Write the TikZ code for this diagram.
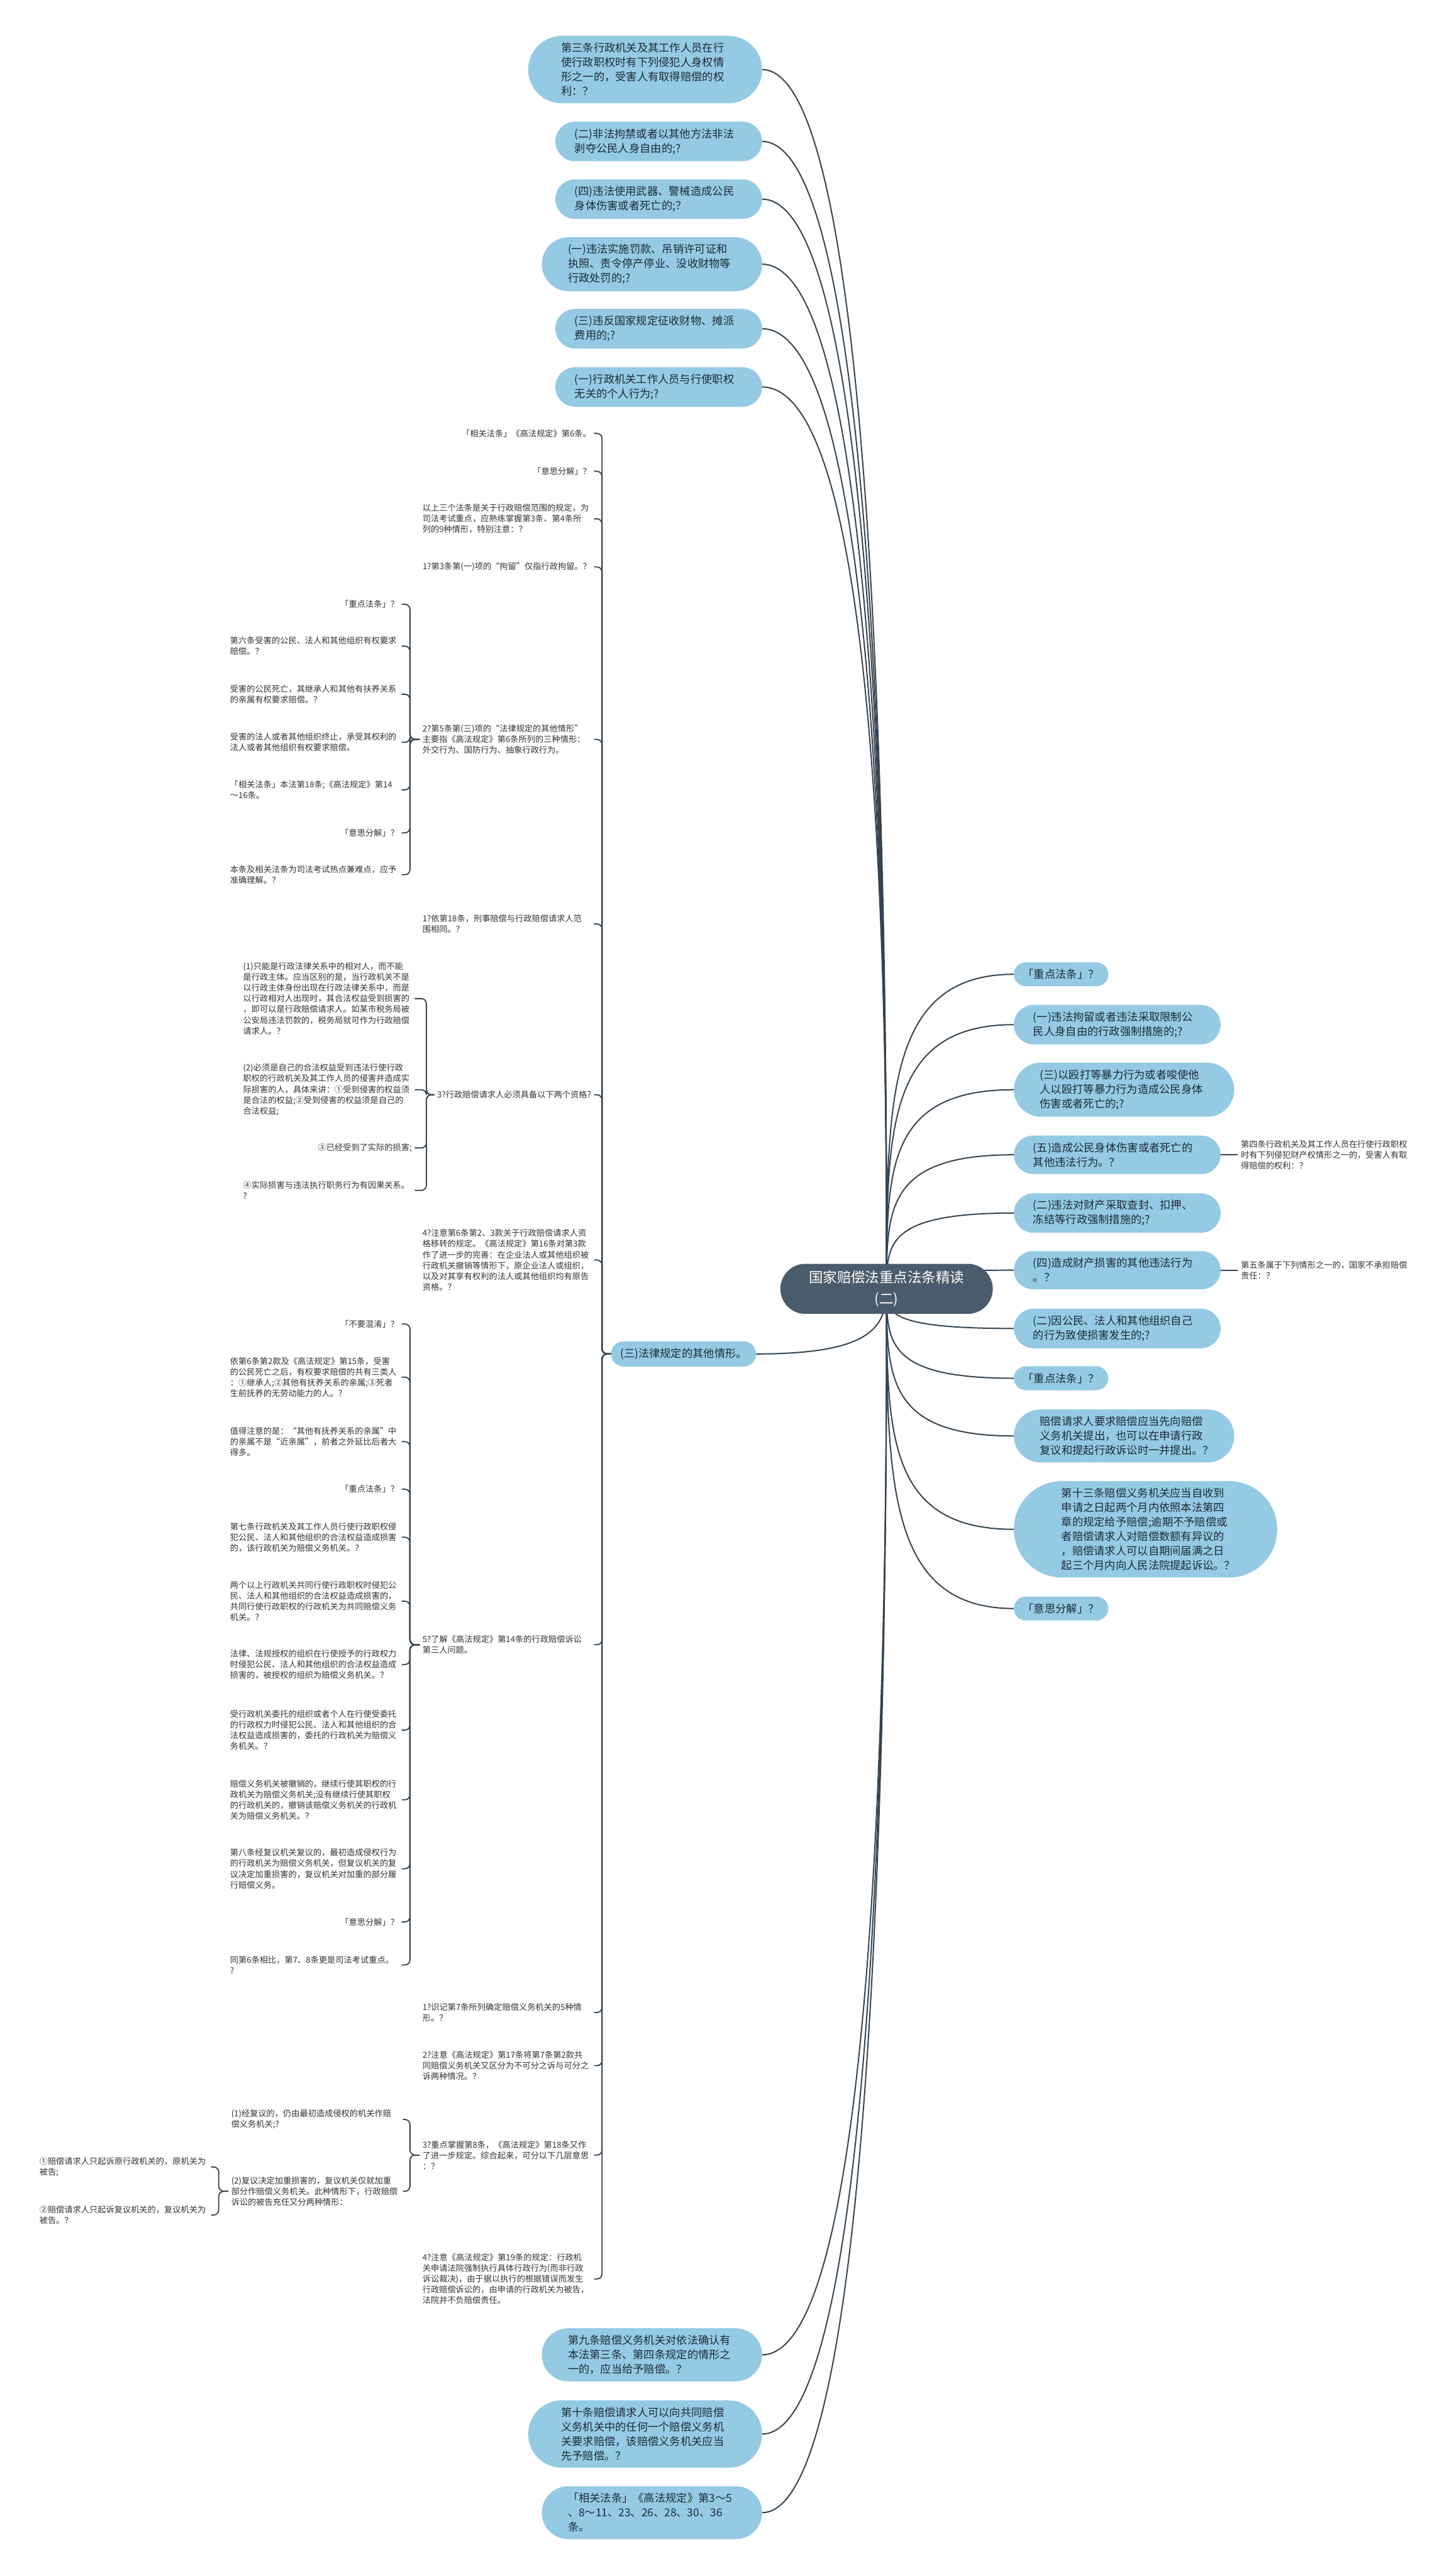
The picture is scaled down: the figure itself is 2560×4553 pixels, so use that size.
\documentclass[tikz,border=0pt]{standalone}
\usepackage{fontspec}
\setmainfont{Noto Sans CJK SC}
\usetikzlibrary{calc}
\definecolor{bubfill}{HTML}{94CAE4}
\definecolor{rootfill}{HTML}{4A5B6B}
\definecolor{lineC}{HTML}{34434F}
\definecolor{smalltext}{HTML}{333333}
\definecolor{bubtext}{HTML}{1E2B36}
\pgfdeclarelayer{bg}
\pgfdeclarelayer{lines}
\pgfdeclarelayer{pills}
\pgfsetlayers{bg,lines,pills,main}
\begin{document}
\begin{tikzpicture}[x=1pt,y=-1pt,
  bubT/.style={text=bubtext, font=\fontsize{19.2pt}{25.6pt}\selectfont, align=left, inner ysep=12pt},
  bub1/.style={bubT, inner xsep=16pt},
  bub2/.style={bubT, text width=297pt, inner xsep=34pt},
  bub3/.style={bubT, text width=297pt, inner xsep=46pt},
  bub4/.style={bubT, text width=297pt, inner xsep=58pt},
  bub6/.style={bubT, text width=297pt, inner xsep=84pt},
  rootT/.style={text=white, font=\fontsize{25pt}{38pt}\selectfont, align=center, inner xsep=50pt, inner ysep=12pt},
  sm/.style={text=smalltext, font=\fontsize{14.7pt}{19pt}\selectfont, align=left, inner xsep=5pt, inner ysep=2pt},
  sw/.style={sm, text width=298pt},
  conn/.style={draw=lineC, line width=2.2pt},
  brk/.style={draw=lineC, line width=2.0pt, rounded corners=9pt}]
\begin{pgfonlayer}{bg}
\fill[white] (0,0) rectangle (2560,4553);
\end{pgfonlayer}
\useasboundingbox (0,0) rectangle (2560,4553);

% root
\node[rootT] (root) at (1567,2278) {国家赔偿法重点法条精读\\(二)};

% left top bubbles
\node[bub4,anchor=east] (b1) at (1347,123) {第三条行政机关及其工作人员在行\\使行政职权时有下列侵犯人身权情\\形之一的，受害人有取得赔偿的权\\利：？};
\node[bub2,anchor=east] (b2) at (1347,250) {(二)非法拘禁或者以其他方法非法\\剥夺公民人身自由的;?};
\node[bub2,anchor=east] (b3) at (1347,352) {(四)违法使用武器、警械造成公民\\身体伤害或者死亡的;？};
\node[bub3,anchor=east] (b4) at (1347,467) {(一)违法实施罚款、吊销许可证和\\执照、责令停产停业、没收财物等\\行政处罚的;?};
\node[bub2,anchor=east] (b5) at (1347,581) {(三)违反国家规定征收财物、摊派\\费用的;?};
\node[bub2,anchor=east] (b6) at (1347,684) {(一)行政机关工作人员与行使职权\\无关的个人行为;?};

% left middle bubble
\node[bub1,anchor=west] (san) at (1080,2393) {(三)法律规定的其他情形。};

% bottom bubbles
\node[bub3,anchor=east] (bb1) at (1347,4162) {第九条赔偿义务机关对依法确认有\\本法第三条、第四条规定的情形之\\一的，应当给予赔偿。？};
\node[bub4,anchor=east] (bb2) at (1347,4302) {第十条赔偿请求人可以向共同赔偿\\义务机关中的任何一个赔偿义务机\\关要求赔偿，该赔偿义务机关应当\\先予赔偿。？};
\node[bub3,anchor=east] (bb3) at (1347,4441) {「相关法条」《高法规定》第3～5\\、8～11、23、26、28、30、36\\条。};

% right bubbles
\node[bub1,anchor=west] (r1) at (1792,1722) {「重点法条」？};
\node[bub2,anchor=west] (r2) at (1792,1811) {(一)违法拘留或者违法采取限制公\\民人身自由的行政强制措施的;?};
\node[bub3,anchor=west] (r3) at (1792,1926) {(三)以殴打等暴力行为或者唆使他\\人以殴打等暴力行为造成公民身体\\伤害或者死亡的;?};
\node[bub2,anchor=west] (r4) at (1792,2041) {(五)造成公民身体伤害或者死亡的\\其他违法行为。？};
\node[bub2,anchor=west] (r5) at (1792,2144) {(二)违法对财产采取查封、扣押、\\冻结等行政强制措施的;?};
\node[bub2,anchor=west] (r6) at (1792,2245) {(四)造成财产损害的其他违法行为\\。？};
\node[bub2,anchor=west] (r7) at (1792,2348) {(二)因公民、法人和其他组织自己\\的行为致使损害发生的;?};
\node[bub1,anchor=west] (r8) at (1792,2436) {「重点法条」？};
\node[bub3,anchor=west] (r9) at (1792,2538) {赔偿请求人要求赔偿应当先向赔偿\\义务机关提出，也可以在申请行政\\复议和提起行政诉讼时一并提出。？};
\node[bub6,anchor=west] (r10) at (1792,2703) {第十三条赔偿义务机关应当自收到\\申请之日起两个月内依照本法第四\\章的规定给予赔偿;逾期不予赔偿或\\者赔偿请求人对赔偿数额有异议的\\，赔偿请求人可以自期间届满之日\\起三个月内向人民法院提起诉讼。？};
\node[bub1,anchor=west] (r11) at (1792,2843) {「意思分解」？};

\node[sw,anchor=west] (r4c) at (2188,2041) {第四条行政机关及其工作人员在行使行政职权\\时有下列侵犯财产权情形之一的，受害人有取\\得赔偿的权利：？};
\node[sw,anchor=west] (r6c) at (2188,2245) {第五条属于下列情形之一的，国家不承担赔偿\\责任：？};

% column 2 (children of san)
\node[sm,anchor=east] (c1) at (1050,766) {「相关法条」《高法规定》第6条。};
\node[sm,anchor=east] (c2) at (1050,833) {「意思分解」？};
\node[sw,anchor=east] (c3) at (1050,917) {以上三个法条是关于行政赔偿范围的规定，为\\司法考试重点，应熟练掌握第3条、第4条所\\列的9种情形，特别注意：？};
\node[sm,anchor=east] (c4) at (1050,1002) {1?第3条第(一)项的“拘留”仅指行政拘留。？};
\node[sw,anchor=east] (c5) at (1050,1307) {2?第5条第(三)项的“法律规定的其他情形”\\主要指《高法规定》第6条所列的三种情形：\\外交行为、国防行为、抽象行政行为。};
\node[sw,anchor=east] (c6) at (1050,1633) {1?依第18条，刑事赔偿与行政赔偿请求人范\\围相同。？};
\node[sm,anchor=east] (c7) at (1050,1935) {3?行政赔偿请求人必须具备以下两个资格?};
\node[sw,anchor=east] (c8) at (1050,2227) {4?注意第6条第2、3款关于行政赔偿请求人资\\格移转的规定。《高法规定》第16条对第3款\\作了进一步的完善：在企业法人或其他组织被\\行政机关撤销等情形下，原企业法人或组织，\\以及对其享有权利的法人或其他组织均有原告\\资格。？};
\node[sw,anchor=east] (c9) at (1050,2907) {5?了解《高法规定》第14条的行政赔偿诉讼\\第三人问题。};
\node[sw,anchor=east] (c10) at (1050,3557) {1?识记第7条所列确定赔偿义务机关的5种情\\形。？};
\node[sw,anchor=east] (c11) at (1050,3651) {2?注意《高法规定》第17条将第7条第2款共\\同赔偿义务机关又区分为不可分之诉与可分之\\诉两种情况。？};
\node[sw,anchor=east] (c12) at (1050,3809) {3?重点掌握第8条，《高法规定》第18条又作\\了进一步规定。综合起来，可分以下几层意思\\：？};
\node[sw,anchor=east] (c13) at (1050,4028) {4?注意《高法规定》第19条的规定：行政机\\关申请法院强制执行具体行政行为(而非行政\\诉讼裁决)，由于据以执行的根据错误而发生\\行政赔偿诉讼的，由申请的行政机关为被告，\\法院并不负赔偿责任。};

% children of c5
\node[sm,anchor=east] (c5a) at (710,1068) {「重点法条」？};
\node[sw,anchor=east] (c5b) at (710,1142) {第六条受害的公民、法人和其他组织有权要求\\赔偿。？};
\node[sw,anchor=east] (c5c) at (710,1227) {受害的公民死亡，其继承人和其他有扶养关系\\的亲属有权要求赔偿。？};
\node[sw,anchor=east] (c5d) at (710,1312) {受害的法人或者其他组织终止，承受其权利的\\法人或者其他组织有权要求赔偿。};
\node[sw,anchor=east] (c5e) at (710,1396) {「相关法条」本法第18条;《高法规定》第14\\～16条。};
\node[sm,anchor=east] (c5f) at (710,1472) {「意思分解」？};
\node[sw,anchor=east] (c5g) at (710,1546) {本条及相关法条为司法考试热点兼难点，应予\\准确理解。？};

% children of c7
\node[sw,anchor=east] (c7a) at (733,1765) {(1)只能是行政法律关系中的相对人，而不能\\是行政主体。应当区别的是，当行政机关不是\\以行政主体身份出现在行政法律关系中，而是\\以行政相对人出现时，其合法权益受到损害的\\，即可以是行政赔偿请求人。如某市税务局被\\公安局违法罚款的，税务局就可作为行政赔偿\\请求人。？};
\node[sw,anchor=east] (c7b) at (733,1926) {(2)必须是自己的合法权益受到违法行使行政\\职权的行政机关及其工作人员的侵害并造成实\\际损害的人，具体来讲：①受到侵害的权益须\\是合法的权益;②受到侵害的权益须是自己的\\合法权益;};
\node[sm,anchor=east] (c7c) at (733,2029) {③已经受到了实际的损害;};
\node[sw,anchor=east] (c7d) at (733,2104) {④实际损害与违法执行职务行为有因果关系。\\?};

% children of c9
\node[sm,anchor=east] (c9a) at (710,2340) {「不要混淆」？};
\node[sw,anchor=east] (c9b) at (710,2434) {依第6条第2款及《高法规定》第15条，受害\\的公民死亡之后，有权要求赔偿的共有三类人\\：①继承人;②其他有抚养关系的亲属;③死者\\生前抚养的无劳动能力的人。？};
\node[sw,anchor=east] (c9c) at (710,2548) {值得注意的是：“其他有抚养关系的亲属”中\\的亲属不是“近亲属”，前者之外延比后者大\\得多。};
\node[sm,anchor=east] (c9d) at (710,2632) {「重点法条」？};
\node[sw,anchor=east] (c9e) at (710,2717) {第七条行政机关及其工作人员行使行政职权侵\\犯公民、法人和其他组织的合法权益造成损害\\的，该行政机关为赔偿义务机关。？};
\node[sw,anchor=east] (c9f) at (710,2830) {两个以上行政机关共同行使行政职权时侵犯公\\民、法人和其他组织的合法权益造成损害的，\\共同行使行政职权的行政机关为共同赔偿义务\\机关。？};
\node[sw,anchor=east] (c9g) at (710,2942) {法律、法规授权的组织在行使授予的行政权力\\时侵犯公民、法人和其他组织的合法权益造成\\损害的，被授权的组织为赔偿义务机关。？};
\node[sw,anchor=east] (c9h) at (710,3058) {受行政机关委托的组织或者个人在行使受委托\\的行政权力时侵犯公民、法人和其他组织的合\\法权益造成损害的，委托的行政机关为赔偿义\\务机关。？};
\node[sw,anchor=east] (c9i) at (710,3181) {赔偿义务机关被撤销的，继续行使其职权的行\\政机关为赔偿义务机关;没有继续行使其职权\\的行政机关的，撤销该赔偿义务机关的行政机\\关为赔偿义务机关。？};
\node[sw,anchor=east] (c9j) at (710,3303) {第八条经复议机关复议的，最初造成侵权行为\\的行政机关为赔偿义务机关，但复议机关的复\\议决定加重损害的，复议机关对加重的部分履\\行赔偿义务。};
\node[sm,anchor=east] (c9k) at (710,3397) {「意思分解」？};
\node[sw,anchor=east] (c9l) at (710,3473) {同第6条相比，第7、8条更是司法考试重点。\\?};

% children of c12
\node[sw,anchor=east] (c12a) at (712,3746) {(1)经复议的，仍由最初造成侵权的机关作赔\\偿义务机关;?};
\node[sw,anchor=east] (c12b) at (712,3873) {(2)复议决定加重损害的，复议机关仅就加重\\部分作赔偿义务机关。此种情形下，行政赔偿\\诉讼的被告充任又分两种情形：};
\node[sw,anchor=east] (c12b1) at (373,3830) {①赔偿请求人只起诉原行政机关的，原机关为\\被告;};
\node[sw,anchor=east] (c12b2) at (373,3915) {②赔偿请求人只起诉复议机关的，复议机关为\\被告。？};

\begin{pgfonlayer}{pills}
\fill[rootfill] let \p1=($(root.north east)-(root.south west)$) in [rounded corners=0.499*\y1] (root.south west) rectangle (root.north east);
\foreach \nm in {b1,b2,b3,b4,b5,b6,san,bb1,bb2,bb3,r1,r2,r3,r4,r5,r6,r7,r8,r9,r10,r11}
  \fill[bubfill] let \p1=($(\nm.north east)-(\nm.south west)$) in [rounded corners=0.499*\y1] (\nm.south west) rectangle (\nm.north east);
\end{pgfonlayer}

\begin{pgfonlayer}{lines}
% root to left top
\draw[conn] (b1.east) .. controls +(220,0) and +(0,-440) .. (root.center);
\draw[conn] (b2.east) .. controls +(220,0) and +(0,-430) .. (root.center);
\draw[conn] (b3.east) .. controls +(220,0) and +(0,-420) .. (root.center);
\draw[conn] (b4.east) .. controls +(220,0) and +(0,-410) .. (root.center);
\draw[conn] (b5.east) .. controls +(220,0) and +(0,-400) .. (root.center);
\draw[conn] (b6.east) .. controls +(220,0) and +(0,-390) .. (root.center);
\draw[conn] (san.east) .. controls +(200,0) and +(0,70) .. (root.center);
\draw[conn] (bb1.east) .. controls +(220,0) and +(0,420) .. (root.center);
\draw[conn] (bb2.east) .. controls +(220,0) and +(0,430) .. (root.center);
\draw[conn] (bb3.east) .. controls +(220,0) and +(0,440) .. (root.center);
% root to right
\draw[conn] (root.center) .. controls +(0,-334) and +(-225,0) .. (r1.west);
\draw[conn] (root.center) .. controls +(0,-280) and +(-225,0) .. (r2.west);
\draw[conn] (root.center) .. controls +(0,-211) and +(-225,0) .. (r3.west);
\draw[conn] (root.center) .. controls +(0,-142) and +(-225,0) .. (r4.west);
\draw[conn] (root.center) .. controls +(0,-80) and +(-225,0) .. (r5.west);
\draw[conn] (root.center) .. controls +(0,-20) and +(-225,0) .. (r6.west);
\draw[conn] (root.center) .. controls +(0,42) and +(-225,0) .. (r7.west);
\draw[conn] (root.center) .. controls +(0,95) and +(-225,0) .. (r8.west);
\draw[conn] (root.center) .. controls +(0,156) and +(-225,0) .. (r9.west);
\draw[conn] (root.center) .. controls +(0,255) and +(-225,0) .. (r10.west);
\draw[conn] (root.center) .. controls +(0,339) and +(-225,0) .. (r11.west);
\draw[conn] (r4.east) -- (r4c.west);
\draw[conn] (r6.east) -- (r6c.west);
% spine of san
\foreach \c in {c1,c2,c3,c4,c5,c6,c7,c8,c9,c10,c11,c12,c13}
  \draw[brk] (san.west) -- (1064,2393) |- (\c.east);
% brackets
\foreach \c in {c5a,c5b,c5c,c5d,c5e,c5f,c5g}
  \draw[brk] (c5.west) -- ++(-17,0) |- (\c.east);
\foreach \c in {c7a,c7b,c7c,c7d}
  \draw[brk] (c7.west) -- ++(-14,0) |- (\c.east);
\foreach \c in {c9a,c9b,c9c,c9d,c9e,c9f,c9g,c9h,c9i,c9j,c9k,c9l}
  \draw[brk] (c9.west) -- ++(-17,0) |- (\c.east);
\foreach \c in {c12a,c12b}
  \draw[brk] (c12.west) -- ++(-17,0) |- (\c.east);
\foreach \c in {c12b1,c12b2}
  \draw[brk] (c12b.west) -- ++(-17,0) |- (\c.east);
\end{pgfonlayer}
\end{tikzpicture}
\end{document}
